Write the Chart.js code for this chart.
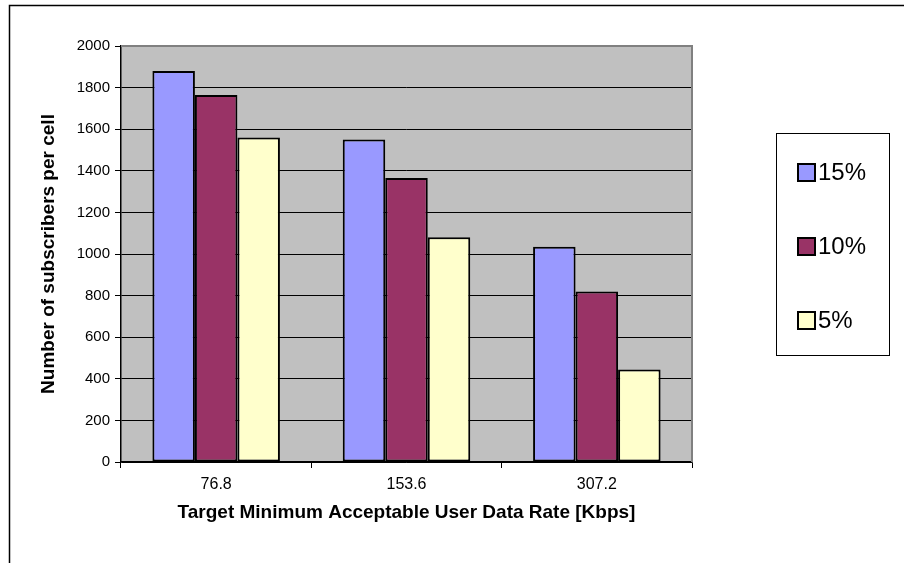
<!DOCTYPE html>
<html>
<head>
<meta charset="utf-8">
<script src="https://cdn.jsdelivr.net/npm/chart.js@4"></script>
<style>
  html, body { margin: 0; padding: 0; background: #fff; }
  canvas { display: block; }
</style>
</head>
<body>
<canvas id="grafico" width="904" height="563"></canvas>
<script>
// data rates (Kbps) and subscribers per cell for each share
const rates = ['76.8', '153.6', '307.2'];
const labelsSerie = ['15%', '10%', '5%'];
const subs15 = [1880, 1550, 1035];
const subs10 = [1765, 1365, 820];
const subs5 = [1560, 1080, 445];
const yTicks = [0, 200, 400, 600, 800, 1000, 1200, 1400, 1600, 1800, 2000];

const coresSerie = ['#9999FF', '#993366', '#FFFFCC'];
const FONTE = '"Liberation Sans", Arial, sans-serif';

// ----------------------------
// fundo, moldura e area cinza
// ----------------------------
const fundoPlugin = {
    id: 'fundo',
    beforeDraw(chart) {
        const { ctx, chartArea: a } = chart;
        ctx.save();
        ctx.fillStyle = '#ffffff';
        ctx.fillRect(0, 0, chart.width, chart.height);
        // moldura externa (cortada a direita e embaixo)
        ctx.strokeStyle = '#000000';
        ctx.lineWidth = 1.5;
        ctx.strokeRect(9.5, 5.5, chart.width + 20, chart.height + 20);
        // area do grafico
        ctx.fillStyle = '#C0C0C0';
        ctx.fillRect(a.left, a.top, a.right - a.left, a.bottom - a.top);
        ctx.restore();
    },
    beforeDatasetsDraw(chart) {
        const { ctx, chartArea: a } = chart;
        ctx.save();
        ctx.strokeStyle = '#808080';
        ctx.lineWidth = 2;
        ctx.beginPath();
        ctx.moveTo(a.left, a.top);
        ctx.lineTo(a.right, a.top);
        ctx.lineTo(a.right, a.bottom);
        ctx.stroke();
        ctx.restore();
    }
};

// ----------------------------
// legenda em caixa a direita
// ----------------------------
const legendaPlugin = {
    id: 'legendaCaixa',
    afterDraw(chart) {
        const { ctx } = chart;
        ctx.save();
        ctx.fillStyle = '#ffffff';
        ctx.fillRect(776.5, 133.5, 113, 222);
        ctx.strokeStyle = '#000000';
        ctx.lineWidth = 1;
        ctx.strokeRect(776.5, 133.5, 113, 222);
        chart.data.datasets.forEach((ds, i) => {
            const cy = 172 + i * 74;
            ctx.fillStyle = ds.backgroundColor;
            ctx.fillRect(797, cy - 9, 19, 19);
            ctx.strokeStyle = '#000000';
            ctx.lineWidth = 2;
            ctx.strokeRect(798, cy - 8, 17, 17);
            ctx.fillStyle = '#000000';
            ctx.font = '24px ' + FONTE;
            ctx.textAlign = 'left';
            ctx.textBaseline = 'middle';
            ctx.fillText(ds.label, 818, cy + 1);
        });
        ctx.restore();
    }
};

const series = [subs15, subs10, subs5];

const grafico = new Chart(document.getElementById('grafico'), {
    type: 'bar',
    data: {
        labels: rates,
        datasets: series.map((valores, i) => ({
            label: labelsSerie[i],
            data: valores,
            backgroundColor: coresSerie[i],
            borderColor: '#000000',
            borderWidth: 2,
            borderSkipped: false,
            categoryPercentage: 0.67,
            barPercentage: 1.0
        }))
    },
    options: {
        responsive: false,
        animation: false,
        devicePixelRatio: 1,
        layout: { padding: { top: 46, right: 212, left: 0, bottom: 0 } },
        plugins: {
            legend: { display: false },
            tooltip: { enabled: false }
        },
        scales: {
            x: {
                afterFit(scale) { scale.height = 101; },
                grid: {
                    offset: true,
                    drawOnChartArea: false,
                    drawTicks: true,
                    tickLength: 6,
                    tickColor: '#000000',
                    lineWidth: 1
                },
                border: { color: '#000000', width: 1.5 },
                ticks: {
                    color: '#000000',
                    padding: 7,
                    font: { family: FONTE, size: 16 }
                },
                title: {
                    display: true,
                    text: 'Target Minimum Acceptable User Data Rate [Kbps]',
                    color: '#000000',
                    font: { family: FONTE, size: 19, weight: 'bold' },
                    padding: { top: 0, bottom: 39 }
                }
            },
            y: {
                min: yTicks[0],
                max: yTicks[yTicks.length - 1],
                afterFit(scale) { scale.width = 121; },
                afterBuildTicks(scale) { scale.ticks = yTicks.map(v => ({ value: v })); },
                grid: {
                    color: '#000000',
                    lineWidth: 1,
                    drawTicks: true,
                    tickLength: 6,
                    tickColor: '#000000'
                },
                border: { color: '#000000', width: 1.5 },
                ticks: {
                    color: '#000000',
                    padding: 5,
                    font: { family: FONTE, size: 15 },
                    callback: v => String(v)
                },
                title: {
                    display: true,
                    text: 'Number of subscribers per cell',
                    color: '#000000',
                    font: { family: FONTE, size: 19, weight: 'bold' },
                    padding: { top: 37, bottom: 0 }
                }
            }
        }
    },
    plugins: [fundoPlugin, legendaPlugin]
});
</script>
</body>
</html>
